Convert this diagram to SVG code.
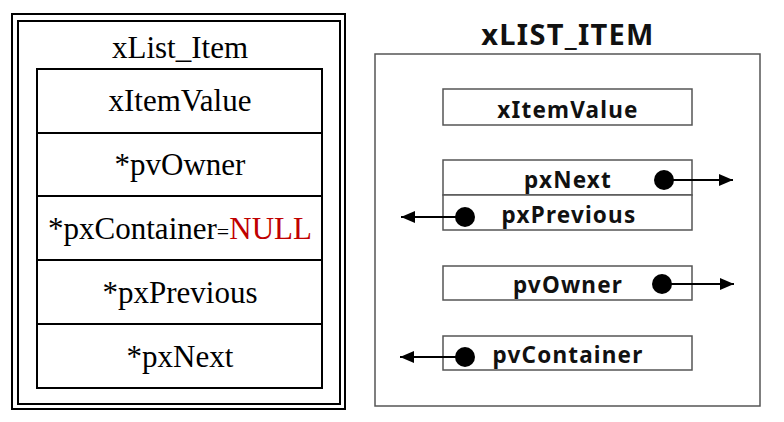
<svg xmlns="http://www.w3.org/2000/svg" width="784" height="422" viewBox="0 0 784 422">
<style>
.serif{font-family:"Liberation Serif","Times New Roman",serif;font-size:31px;fill:#000;text-anchor:middle}
.sans{font-family:"Noto Sans","DejaVu Sans",sans-serif;font-weight:bold;font-size:22.5px;letter-spacing:1.2px;fill:#111;text-anchor:middle}
.cell{fill:#fff;stroke:#000;stroke-width:2}
.box{fill:#fff;stroke:#555;stroke-width:1.5}
.conn{stroke:#000;stroke-width:2;fill:none}
</style>
<defs>
<marker id="ah" markerWidth="14" markerHeight="12" refX="14" refY="6" orient="auto" markerUnits="userSpaceOnUse">
<path d="M0,0 L14,6 L0,12 Z" fill="#000"/>
</marker>
</defs>
<rect width="784" height="422" fill="#fff"/>
<g id="left">
<rect x="12" y="14" width="333" height="395" fill="none" stroke="#000" stroke-width="2"/>
<rect x="18" y="21" width="322" height="383" fill="none" stroke="#000" stroke-width="2"/>
<text class="serif" x="180" y="58">xList_Item</text>
<g id="l-xItemValue"><rect class="cell" x="37" y="69" width="285" height="64"/><text class="serif" x="180" y="111">xItemValue</text></g>
<g id="l-pvOwner"><rect class="cell" x="37" y="133" width="285" height="63"/><text class="serif" x="180" y="175">*pvOwner</text></g>
<g id="l-pxContainer"><rect class="cell" x="37" y="196" width="285" height="64"/><text class="serif" x="180" y="239">*pxContainer<tspan style="font-size:22px">=</tspan><tspan fill="#c00000">NULL</tspan></text></g>
<g id="l-pxPrevious"><rect class="cell" x="37" y="260" width="285" height="64"/><text class="serif" x="180" y="303">*pxPrevious</text></g>
<g id="l-pxNext"><rect class="cell" x="37" y="324" width="285" height="64"/><text class="serif" x="180" y="367">*pxNext</text></g>
</g>
<g id="right">
<text x="568" y="45" style="font-family:'Noto Sans','DejaVu Sans',sans-serif;font-weight:bold;font-size:29px;letter-spacing:1.3px;fill:#111;text-anchor:middle">xLIST_ITEM</text>
<rect class="box" x="375" y="54" width="385" height="352"/>
<g id="r-xItemValue"><rect class="box" x="443" y="89" width="249" height="36"/><text class="sans" x="568" y="118">xItemValue</text></g>
<g id="r-pxNext"><rect class="box" x="443" y="160" width="249" height="35"/><text class="sans" x="568" y="188">pxNext</text><circle cx="664" cy="180" r="10" fill="#000"/></g>
<g id="r-pxPrevious"><rect class="box" x="443" y="195" width="249" height="35"/><text class="sans" x="569" y="223">pxPrevious</text><circle cx="465" cy="217" r="10" fill="#000"/></g>
<g id="r-pvOwner"><rect class="box" x="443" y="266" width="249" height="34"/><text class="sans" x="568" y="293">pvOwner</text><circle cx="662" cy="284" r="10" fill="#000"/></g>
<g id="r-pvContainer"><rect class="box" x="443" y="336" width="249" height="34"/><text class="sans" x="568" y="363">pvContainer</text><circle cx="465" cy="357" r="10" fill="#000"/></g>
</g>
<g id="connectors">
<line class="conn" x1="664" y1="180" x2="733" y2="180" marker-end="url(#ah)"/>
<line class="conn" x1="465" y1="217" x2="401" y2="217" marker-end="url(#ah)"/>
<line class="conn" x1="662" y1="284" x2="734" y2="284" marker-end="url(#ah)"/>
<line class="conn" x1="465" y1="357" x2="400" y2="357" marker-end="url(#ah)"/>
</g>
</svg>
